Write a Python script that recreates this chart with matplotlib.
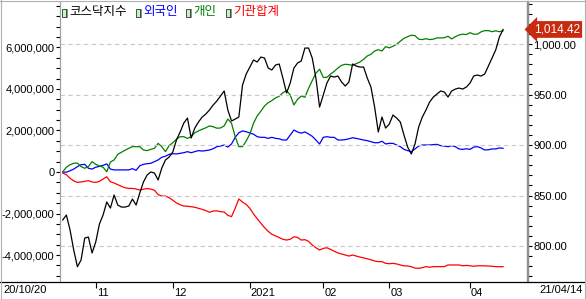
import matplotlib
matplotlib.use('Agg')
import matplotlib.pyplot as plt
import matplotlib.transforms as mtransforms
from matplotlib.lines import Line2D
from matplotlib.patches import Rectangle
import numpy as np

# trading days per month, 2020/10/20 .. 2021/04/14
month_labels = ['11', '12', '2021', '02', '03', '04']
days_per_month = [9, 21, 21, 20, 18, 22, 10]
start_label = '20/10/20'
end_label = '21/04/14'

# KOSDAQ index (right axis)
kosdaq = [825.8, 830.7, 815.9, 796.1, 779.5, 786.2, 807.9, 808.9, 793.1, 804.0,
          821.8, 830.7, 843.6, 837.6, 850.5, 840.6, 838.6, 838.6, 839.6, 846.5,
          840.6, 852.5, 863.4, 870.3, 873.3, 872.3, 865.4, 877.2, 885.2, 888.1,
          893.1, 905.0, 912.9, 921.8, 926.7, 906.9, 916.8, 922.8, 927.7, 930.7,
          934.7, 939.6, 943.6, 948.5, 953.5, 934.7, 923.8, 925.7, 927.7, 959.4,
          970.3, 977.2, 984.2, 982.2, 987.1, 986.1, 976.2, 974.3, 979.2, 980.2,
          966.3, 951.5, 961.4, 976.2, 981.2, 983.2, 996.0, 996.0, 986.1, 966.3,
          937.6, 949.5, 961.4, 968.3, 967.3, 968.3, 962.4, 958.4, 962.4, 980.2,
          978.2, 977.2, 977.2, 966.3, 957.4, 937.6, 912.9, 927.7, 916.8, 920.8,
          929.7, 926.7, 922.8, 909.9, 898.0, 891.1, 901.0, 917.8, 927.7, 934.7,
          942.6, 947.5, 950.5, 953.5, 952.5, 947.5, 953.5, 955.4, 956.4, 955.4,
          957.4, 961.4, 968.3, 969.3, 968.3, 970.3, 978.2, 986.1, 994.1, 1006.9,
          1014.42]

# cumulative net buying, millions (left axis)
foreign = [0.00, -0.01, 0.06, 0.14, 0.26, 0.35, 0.37, 0.18, 0.14, 0.23,
           0.27, 0.32, 0.39, 0.14, 0.10, 0.10, 0.10, 0.10, 0.10, 0.16,
           0.08, 0.30, 0.37, 0.40, 0.42, 0.50, 0.58, 0.71, 0.76, 0.85,
           0.88, 0.87, 0.90, 0.93, 0.98, 0.93, 0.98, 1.03, 1.01, 1.03,
           1.06, 1.12, 1.22, 1.25, 1.30, 1.20, 1.35, 1.67, 1.89, 1.98,
           1.94, 1.88, 1.82, 1.70, 1.67, 1.67, 1.62, 1.67, 1.62, 1.60,
           1.54, 1.54, 1.78, 2.02, 1.93, 1.87, 1.93, 1.83, 1.72, 1.54,
           1.35, 1.67, 1.70, 1.67, 1.67, 1.54, 1.54, 1.56, 1.60, 1.65,
           1.62, 1.58, 1.54, 1.51, 1.46, 1.41, 1.41, 1.48, 1.35, 1.38,
           1.38, 1.30, 1.22, 1.09, 1.03, 0.98, 1.11, 1.25, 1.30, 1.30,
           1.30, 1.32, 1.33, 1.27, 1.25, 1.22, 1.27, 1.22, 1.11, 1.09,
           1.12, 1.09, 1.20, 1.22, 1.16, 1.06, 1.07, 1.11, 1.11, 1.16,
           1.14]

individual = [0.01, 0.23, 0.35, 0.42, 0.43, 0.26, 0.18, 0.26, 0.50, 0.37,
              0.29, 0.23, 0.01, 0.48, 0.58, 0.85, 0.95, 1.05, 1.14, 1.22,
              1.22, 1.22, 1.06, 1.03, 1.09, 1.14, 1.38, 1.22, 0.98, 1.27,
              1.41, 1.58, 1.70, 1.70, 1.62, 1.70, 1.89, 1.98, 2.06, 2.13,
              2.22, 2.18, 2.11, 2.12, 2.22, 2.55, 2.35, 1.70, 1.22, 1.22,
              1.49, 1.83, 2.35, 2.70, 2.93, 3.18, 3.34, 3.44, 3.57, 3.65,
              3.82, 3.92, 3.71, 3.23, 3.50, 3.66, 3.60, 4.03, 4.40, 4.76,
              4.95, 4.56, 4.56, 4.72, 4.85, 5.01, 5.14, 5.19, 5.17, 5.14,
              5.22, 5.30, 5.43, 5.59, 5.67, 5.83, 5.89, 5.83, 6.04, 5.98,
              6.06, 6.15, 6.30, 6.44, 6.52, 6.59, 6.57, 6.40, 6.38, 6.42,
              6.38, 6.40, 6.46, 6.46, 6.47, 6.54, 6.41, 6.52, 6.60, 6.64,
              6.62, 6.71, 6.64, 6.64, 6.75, 6.81, 6.81, 6.76, 6.80, 6.76,
              6.80]

institution = [-0.05, -0.13, -0.30, -0.43, -0.50, -0.48, -0.45, -0.42, -0.48, -0.50,
               -0.45, -0.34, -0.23, -0.47, -0.53, -0.61, -0.69, -0.76, -0.79, -0.79,
               -0.82, -0.87, -0.83, -0.80, -0.82, -0.88, -1.09, -1.16, -1.16, -1.24,
               -1.36, -1.49, -1.58, -1.64, -1.65, -1.67, -1.70, -1.75, -1.80, -1.86,
               -1.94, -1.88, -1.87, -1.91, -1.93, -2.09, -2.15, -1.75, -1.30, -1.45,
               -1.56, -1.75, -2.02, -2.25, -2.47, -2.68, -2.86, -3.00, -3.08, -3.16,
               -3.24, -3.28, -3.24, -3.12, -3.15, -3.28, -3.26, -3.34, -3.52, -3.65,
               -3.76, -3.68, -3.65, -3.73, -3.82, -3.90, -3.95, -4.00, -4.05, -4.00,
               -4.05, -4.10, -4.14, -4.18, -4.23, -4.29, -4.32, -4.32, -4.40, -4.42,
               -4.40, -4.43, -4.48, -4.52, -4.53, -4.56, -4.63, -4.64, -4.61, -4.56,
               -4.59, -4.56, -4.56, -4.56, -4.56, -4.48, -4.48, -4.48, -4.48, -4.52,
               -4.50, -4.52, -4.54, -4.52, -4.52, -4.52, -4.53, -4.54, -4.56, -4.56,
               -4.56]

legend_names = ['코스닥지수', '외국인', '개인', '기관합계']
legend_colors = ['black', '#0000FF', '#008000', '#FF0000']

NUM_FONT = ['Liberation Sans', 'DejaVu Sans']
KR_FONT = ['Noto Sans CJK KR', 'DejaVu Sans']
NUM_SIZE = 8
W, H = 586, 299

fig = plt.figure(figsize=(W / 100, H / 100), dpi=100)
ax = fig.add_axes([60 / W, 1 - 282 / H, (528 - 60) / W, (282 - 2) / H])
ax2 = ax.twinx()

x = np.arange(len(kosdaq))
M = 1e6
ax.plot(x, np.array(foreign) * M, color=legend_colors[1], lw=0.9)
ax.plot(x, np.array(individual) * M, color=legend_colors[2], lw=0.9)
ax.plot(x, np.array(institution) * M, color=legend_colors[3], lw=0.9)
ax2.plot(x, kosdaq, color=legend_colors[0], lw=0.9)

ax.set_xlim(-0.74, 126.8)
ax.set_ylim(-5.30 * M, 8.19 * M)
ax2.set_ylim(764.4, 1041.6)

# month ticks at first trading day of each month
month_pos = np.cumsum(days_per_month)[:-1]
ax.set_xticks(month_pos)
ax.set_xticklabels(month_labels, fontsize=NUM_SIZE, family=NUM_FONT, ha='left')
ax.tick_params(axis='x', direction='out', length=4, width=0.8, pad=0)
for lbl in ax.get_xticklabels():
  lbl.set_transform(lbl.get_transform() + mtransforms.ScaledTranslation(1 / 100, 0, fig.dpi_scale_trans))

# left axis
ax.set_yticks(np.arange(-4, 7, 2) * M)
ax.set_yticks(np.arange(-5, 8.5, 0.5) * M, minor=True)
ax.yaxis.set_major_formatter(plt.FuncFormatter(lambda v, p: '{:,.0f}'.format(v)))
ax.tick_params(axis='y', which='both', direction='out', length=3, width=0.8, pad=1, labelsize=NUM_SIZE)
for lbl in ax.get_yticklabels():
  lbl.set_family(NUM_FONT)

# right axis
ax2.set_yticks(np.arange(800, 1001, 50))
ax2.set_yticks(np.arange(770, 1041, 10), minor=True)
ax2.yaxis.set_major_formatter(plt.FuncFormatter(lambda v, p: '{:,.2f}'.format(v)))
ax2.tick_params(axis='y', which='both', direction='out', length=3, width=0.8, pad=1, labelsize=NUM_SIZE)
for lbl in ax2.get_yticklabels():
  lbl.set_family(NUM_FONT)
ax2.grid(axis='y', which='major', color='#C8C8C8', ls=(0, (4, 3)), lw=0.8)

for a in (ax, ax2):
  a.spines['top'].set_visible(False)
  a.spines['bottom'].set_visible(False)
  a.spines['left'].set_color('#A0A0A0')
  a.spines['right'].set_color('#909090')
  a.spines['right'].set_linewidth(1.6)

# last value tag
last = kosdaq[-1]
trans = mtransforms.blended_transform_factory(ax2.transAxes, ax2.transData)
ax2.text(1.012, last, '{:,.2f}'.format(last), transform=trans, va='center', ha='left',
         color='white', fontsize=8.5, family=NUM_FONT,
         bbox=dict(boxstyle='larrow,pad=0.2', fc='#C82A10', ec='none'))

# frame lines across the figure
fig.add_artist(Line2D([0, 1], [1 - 282 / H, 1 - 282 / H], color='black', lw=0.9))
fig.add_artist(Line2D([1 / W, 1 / W], [0, 1], color='#B0B0B0', lw=0.8))
fig.add_artist(Line2D([0, 1], [1 - 1 / H, 1 - 1 / H], color='#B0B0B0', lw=0.8))
fig.add_artist(Line2D([1 - 1 / W, 1 - 1 / W], [0, 1], color='#B0B0B0', lw=0.8))

fig.text(3 / W, 1 - 290 / H, start_label, fontsize=NUM_SIZE, family=NUM_FONT, va='center', ha='left')
fig.text(1 - 3 / W, 1 - 290 / H, end_label, fontsize=NUM_SIZE, family=NUM_FONT, va='center', ha='right')

# legend
legend_x = [62, 136, 186, 226]
for lx, name, col in zip(legend_x, legend_names, legend_colors):
  fig.add_artist(Rectangle((lx / W + 1.5 / W, 1 - 18 / H), 4 / W, 9 / H, fc='#909090', ec='none'))
  fig.add_artist(Rectangle((lx / W, 1 - 16.5 / H), 4 / W, 8 / H, fc='#C8F0C8', ec='#204020', lw=0.6))
  fig.text((lx + 7) / W, 1 - 12 / H, name, color=col, fontsize=9, family=KR_FONT, va='center', ha='left')

fig.savefig('out.png', dpi=100, facecolor='white')
